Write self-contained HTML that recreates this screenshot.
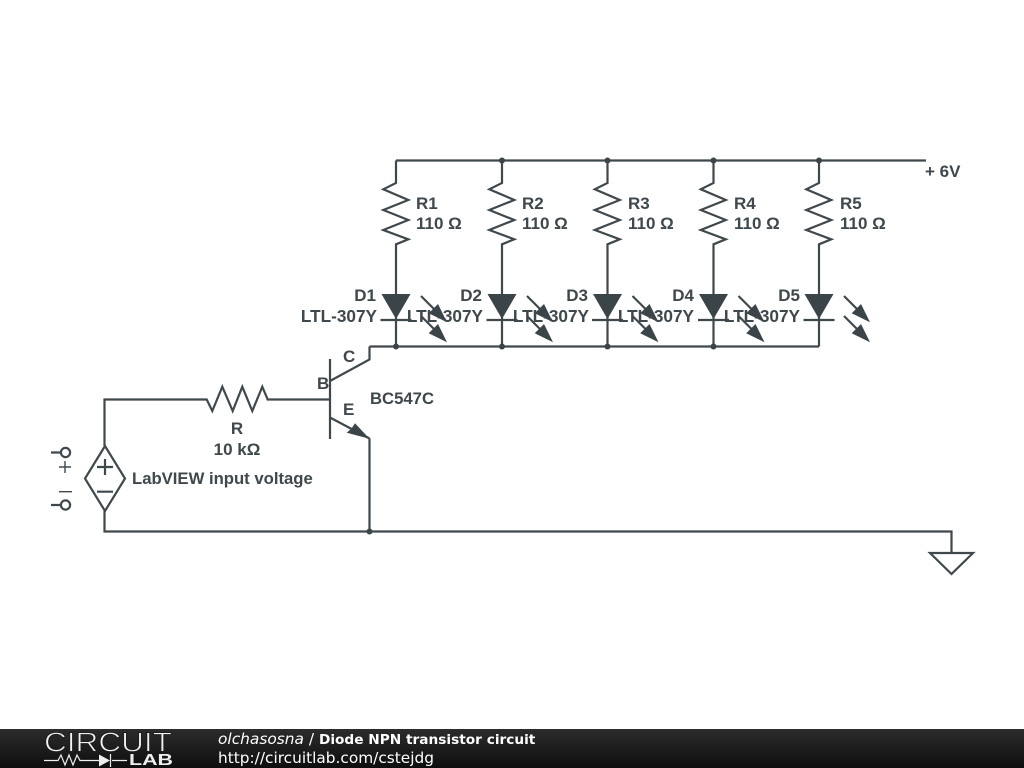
<!DOCTYPE html>
<html>
<head>
<meta charset="utf-8">
<style>
html,body{margin:0;padding:0;background:#fff;width:1024px;height:768px;overflow:hidden}
svg{display:block}
.w{fill:none;stroke:#3f484d;stroke-width:2.2;stroke-linejoin:miter}
.t{font-family:"Liberation Sans",sans-serif;font-weight:bold;font-size:17px;fill:#3f484d}
.f{font-family:"DejaVu Sans",sans-serif;font-size:14px;fill:#fff}
.d{fill:#3b4448}
</style>
</head>
<body>
<svg width="1024" height="768" viewBox="0 0 1024 768" xmlns="http://www.w3.org/2000/svg">
<defs>
<linearGradient id="g" x1="0" y1="0" x2="0" y2="1">
<stop offset="0" stop-color="#2c2c2c"/><stop offset="1" stop-color="#0e0e0e"/>
</linearGradient>
<g id="col">
<path class="w" d="M0 160.5V183L-12.7 189.3L12.3 200L-12.7 210L12.3 220L-12.7 230L12.3 239.3L0 244.3V346.5"/>
<path class="d" d="M-14.5 294H14.5L0 319Z"/>
<path class="w" d="M-15.5 320H15.5"/>
<path class="w" d="M25 296L46 317M25 316L46 337"/>
<path class="d" d="M51 322.3L32.7 313.3L37 309L42 304ZM51 342.3L32.7 333.3L37 329L42 324Z"/>
</g>
</defs>
<rect width="1024" height="768" fill="#fff"/>

<path class="w" d="M396 160.5H926"/>
<use href="#col" x="396"/>
<use href="#col" x="502"/>
<use href="#col" x="607.5"/>
<use href="#col" x="713.5"/>
<use href="#col" x="819"/>
<path class="w" d="M369.5 438.5V531.5M369.5 346.5H819"/>
<g class="d">
<circle cx="502" cy="160.5" r="3"/><circle cx="607.5" cy="160.5" r="3"/><circle cx="713.5" cy="160.5" r="3"/><circle cx="819" cy="160.5" r="3"/>
<circle cx="396" cy="346.5" r="3"/><circle cx="502" cy="346.5" r="3"/><circle cx="607.5" cy="346.5" r="3"/><circle cx="713.5" cy="346.5" r="3"/>
<circle cx="369.5" cy="531.5" r="3"/>
</g>

<!-- transistor -->
<path class="w" d="M330 359V439M330 381L369.5 359.5V346.5M330 417.5L369.5 438.5"/>
<path class="d" d="M369.5 438.7L346.7 432.7L351.5 428.5L355 423.3Z"/>

<!-- base resistor -->
<path class="w" d="M104.5 446V399.5H206.7L212.3 411L222.3 386.7L232.7 411L242.3 386.7L252.3 411L262.3 386.7L267.7 399.5H330"/>

<!-- source -->
<path class="w" d="M105 446L85 478.5L105 511L125 478.5ZM105 459V475M97 467H113M97 491.7H113"/>
<path class="w" d="M104.5 511V531.5H951.5V553"/>
<path class="w" d="M930 553H973L951.5 574Z"/>
<path class="w" d="M51 452.5H61M51 505H61" />
<path d="M65 461V473M59 467H71M59 491.7H72" fill="none" stroke="#3f484d" stroke-width="1.4"/>
<circle class="w" cx="65.5" cy="452.5" r="4.6"/>
<circle class="w" cx="65.5" cy="505" r="4.6"/>

<!-- labels -->
<g class="t">
<text x="416" y="209">R1</text><text x="416" y="229">110 Ω</text>
<text x="522" y="209">R2</text><text x="522" y="229">110 Ω</text>
<text x="628" y="209">R3</text><text x="628" y="229">110 Ω</text>
<text x="734" y="209">R4</text><text x="734" y="229">110 Ω</text>
<text x="840" y="209">R5</text><text x="840" y="229">110 Ω</text>
<text x="376" y="301" text-anchor="end">D1</text><text x="377" y="322" text-anchor="end" font-size="17.2">LTL-307Y</text>
<text x="482" y="301" text-anchor="end">D2</text><text x="483" y="322" text-anchor="end" font-size="17.2">LTL-307Y</text>
<text x="588" y="301" text-anchor="end">D3</text><text x="589" y="322" text-anchor="end" font-size="17.2">LTL-307Y</text>
<text x="694" y="301" text-anchor="end">D4</text><text x="694" y="322" text-anchor="end" font-size="17.2">LTL-307Y</text>
<text x="800" y="301" text-anchor="end">D5</text><text x="800" y="322" text-anchor="end" font-size="17.2">LTL-307Y</text>
<text x="925" y="177">+ 6V</text>
<text x="343" y="362">C</text>
<text x="317" y="389">B</text>
<text x="343" y="415">E</text>
<text x="370" y="404" style="font-size:16.7px">BC547C</text>
<text x="237" y="434" text-anchor="middle">R</text>
<text x="237" y="455" text-anchor="middle">10 kΩ</text>
<text x="132" y="484" style="font-size:16.7px">LabVIEW input voltage</text>
</g>

<!-- footer -->
<rect x="0" y="729" width="1024" height="39" fill="url(#g)"/>
<text x="44" y="751.5" font-family="'Liberation Sans',sans-serif" font-size="27.5" fill="#f2f2f2" stroke="#1e1e1e" stroke-width="0.9" textLength="128" lengthAdjust="spacingAndGlyphs">CIRCUIT</text>
<text x="129" y="765" font-family="'Liberation Sans',sans-serif" font-weight="bold" font-size="15.5" fill="#eee" textLength="44" lengthAdjust="spacingAndGlyphs">LAB</text>
<path d="M44 760.5H58L61 755L65 765L69 755L73 765L77 755L80 760.5H100M112 760.5H127M110.5 754V767" fill="none" stroke="#eee" stroke-width="1.2"/>
<path d="M99 754.5L110 760.5L99 766.5Z" fill="#eee"/>
<text class="f" x="218" y="744"><tspan font-style="italic" font-size="15.4">olchasosna</tspan><tspan font-size="15.4"> / </tspan><tspan font-weight="bold" font-size="13.7">Diode NPN transistor circuit</tspan></text>
<text class="f" x="218" y="763" style="font-size:15.35px">http://circuitlab.com/cstejdg</text>
</svg>
</body>
</html>
